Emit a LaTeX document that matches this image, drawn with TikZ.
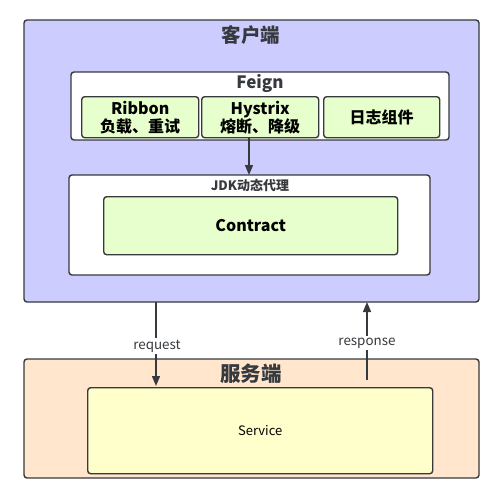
\documentclass[tikz,border=0pt]{standalone}
\usepackage{fontspec}
\setmainfont{Noto Sans CJK SC}
\usetikzlibrary{arrows.meta}
\definecolor{strokec}{HTML}{36393D}
\definecolor{clientc}{HTML}{CCCCFF}
\definecolor{serverc}{HTML}{FFE6CC}
\definecolor{greenc}{HTML}{E6FFCC}
\definecolor{yellowc}{HTML}{FFFFCC}
\tikzset{
  box/.style={draw=strokec, line width=1.4pt, rounded corners=3pt},
  lbl/.style={inner sep=0pt, text=strokec},
  arr/.style={draw=strokec, line width=1.4pt, -{Triangle[length=10pt,width=8pt]}},
  comp/.style={box, fill=greenc, minimum height=41pt, anchor=north west, align=center, font=\fontsize{16}{18}\selectfont\bfseries, inner sep=0pt},
}
\begin{document}
\begin{tikzpicture}[x=1pt,y=-1pt]
\useasboundingbox (0,0) rectangle (500,503);
\fill[white] (0,0) rectangle (500,503);
% client
\draw[box, fill=clientc] (24,20) rectangle (479,302);
\node[lbl, font=\fontsize{19.5}{21}\selectfont\bfseries] (clientT) at (251,35) {客户端};
% feign
\draw[box, fill=white] (71,72) rectangle (449,140);
\node[lbl, font=\fontsize{17}{19}\selectfont\bfseries] (feignT) at (260,83) {Feign};
\node[comp, minimum width=117pt] (ribbon) at (81,96) {Ribbon\\负载、重试};
\node[comp, minimum width=117pt] (hystrix) at (201,96) {Hystrix\\熔断、降级};
\node[comp, minimum width=116pt] (log) at (323,96) {日志组件};
% jdk
\draw[box, fill=white] (69,175) rectangle (430,275);
\coordinate (jdktop) at (249,175);
\node[lbl, font=\fontsize{13}{15}\selectfont\bfseries] (jdkT) at (250,185) {JDK动态代理};
\node[box, fill=greenc, minimum width=294pt, minimum height=58pt, anchor=north west, font=\fontsize{16}{18}\selectfont\bfseries, inner sep=0pt] (contract) at (103,196) {Contract};
\draw[arr] (hystrix.south -| jdktop) -- (jdktop);
% server
\draw[box, fill=serverc] (24,359) rectangle (479,478);
\node[lbl, font=\fontsize{20.5}{22}\selectfont\bfseries] (serverT) at (251,374) {服务端};
\node[box, fill=yellowc, minimum width=345pt, minimum height=86pt, anchor=north west, font=\fontsize{13}{15}\selectfont, inner sep=0pt] (service) at (87,387) {Service};
% request / response
\coordinate (reqS) at (156,302);
\coordinate (reqE) at (156,386);
\coordinate (resS) at (367,380);
\coordinate (resE) at (367,302);
\draw[arr] (reqS) -- (reqE);
\draw[arr] (resS) -- (resE);
\node[lbl, fill=white, inner sep=1.5pt, font=\fontsize{13.4}{15}\selectfont] (reqL) at (157,346) {request};
\node[lbl, fill=white, inner sep=1.5pt, font=\fontsize{13.4}{15}\selectfont] (resL) at (367,343) {response};
\end{tikzpicture}
\end{document}
